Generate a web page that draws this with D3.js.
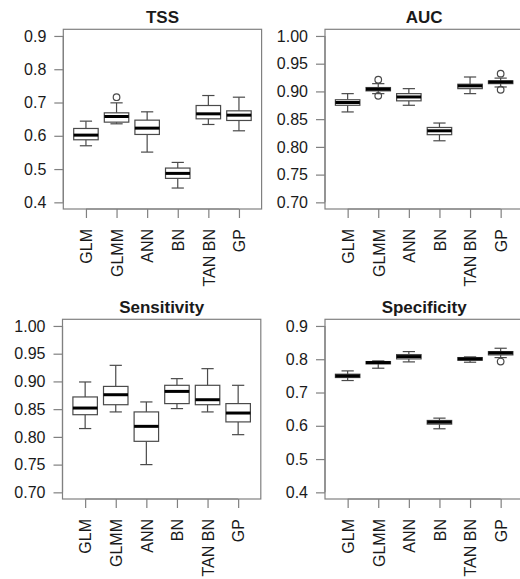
<!DOCTYPE html>
<html><head><meta charset="utf-8">
<script src="https://cdn.jsdelivr.net/npm/d3@7/dist/d3.min.js"></script>
<style>
html,body{margin:0;padding:0;background:#fff;}
svg{display:block;font-family:"Liberation Sans",Arial,sans-serif;}
</style></head>
<body>
<svg id="chart" width="520" height="579"></svg>
<script>
// ---- data ----
const categories = ["GLM", "GLMM", "ANN", "BN", "TAN BN", "GP"];
const titles = ["TSS", "AUC", "Sensitivity", "Specificity"];

// each row: [lower whisker, Q1, median, Q3, upper whisker]
const tssStats = [
  [0.570, 0.588, 0.602, 0.622, 0.644],
  [0.636, 0.641, 0.658, 0.669, 0.699],
  [0.551, 0.604, 0.623, 0.647, 0.672],
  [0.443, 0.472, 0.487, 0.503, 0.520],
  [0.634, 0.651, 0.666, 0.691, 0.721],
  [0.615, 0.646, 0.662, 0.675, 0.716]
];
const tssOutliers = [[], [0.716], [], [], [], []];

const aucStats = [
  [0.863, 0.875, 0.880, 0.885, 0.896],
  [0.896, 0.901, 0.904, 0.907, 0.914],
  [0.875, 0.883, 0.890, 0.896, 0.905],
  [0.811, 0.822, 0.829, 0.835, 0.843],
  [0.896, 0.905, 0.910, 0.913, 0.926],
  [0.908, 0.914, 0.917, 0.919, 0.924]
];
const aucOutliers = [[], [0.921, 0.892], [], [], [], [0.932, 0.903]];

const sensStats = [
  [0.815, 0.840, 0.852, 0.872, 0.899],
  [0.845, 0.858, 0.876, 0.891, 0.929],
  [0.750, 0.792, 0.819, 0.845, 0.863],
  [0.851, 0.860, 0.882, 0.893, 0.905],
  [0.845, 0.858, 0.867, 0.893, 0.923],
  [0.804, 0.827, 0.843, 0.860, 0.893]
];
const sensOutliers = [[], [], [], [], [], []];

const specStats = [
  [0.736, 0.745, 0.750, 0.755, 0.765],
  [0.773, 0.786, 0.790, 0.793, 0.795],
  [0.792, 0.801, 0.808, 0.814, 0.823],
  [0.591, 0.605, 0.611, 0.616, 0.623],
  [0.791, 0.797, 0.801, 0.805, 0.807],
  [0.805, 0.813, 0.819, 0.823, 0.833]
];
const specOutliers = [[], [], [], [], [], [0.793]];

const tssTicks = [0.4, 0.5, 0.6, 0.7, 0.8, 0.9];
const aucTicks = [0.70, 0.75, 0.80, 0.85, 0.90, 0.95, 1.00];
const sensTicks = [0.70, 0.75, 0.80, 0.85, 0.90, 0.95, 1.00];
const specTicks = [0.4, 0.5, 0.6, 0.7, 0.8, 0.9];

const tssLim = [0.4, 0.9];
const aucLim = [0.7, 1.0];
const sensLim = [0.7, 1.0];
const specLim = [0.4, 0.9];

// ---- layout ----
const panels = [
  {title: titles[0], stats: tssStats, out: tssOutliers, ticks: tssTicks, lim: tssLim, fmt: d3.format(".1f"), x0: 63.3, y0: 29.3},
  {title: titles[1], stats: aucStats, out: aucOutliers, ticks: aucTicks, lim: aucLim, fmt: d3.format(".2f"), x0: 325, y0: 29.3},
  {title: titles[2], stats: sensStats, out: sensOutliers, ticks: sensTicks, lim: sensLim, fmt: d3.format(".2f"), x0: 62.5, y0: 319.3},
  {title: titles[3], stats: specStats, out: specOutliers, ticks: specTicks, lim: specLim, fmt: d3.format(".1f"), x0: 325, y0: 319.3}
];
const PW = 198.3, PH = 179.7;
const svg = d3.select("#chart");
const frameCol = "#808080", boxCol = "#4a4a4a", textCol = "#1a1a1a";

panels.forEach(p => {
  const n = categories.length;
  const x = d3.scaleLinear().domain([0.5 - 0.04 * n, n + 0.5 + 0.04 * n]).range([p.x0, p.x0 + PW]);
  const span = p.lim[1] - p.lim[0];
  const y = d3.scaleLinear().domain([p.lim[0] - 0.04 * span, p.lim[1] + 0.04 * span]).range([p.y0 + PH, p.y0]);
  const g = svg.append("g");

  // title
  g.append("text").attr("x", p.x0 + PW / 2).attr("y", p.y0 - 6.5)
    .attr("text-anchor", "middle").attr("font-weight", "bold").attr("font-size", 17)
    .attr("fill", textCol).text(p.title);

  // frame
  g.append("rect").attr("x", p.x0).attr("y", p.y0).attr("width", PW).attr("height", PH)
    .attr("fill", "none").attr("stroke", frameCol).attr("stroke-width", 1.2);

  // y axis
  const yAxis = d3.axisLeft(y).tickValues(p.ticks).tickFormat(p.fmt).tickSize(9).tickPadding(8);
  const ya = g.append("g").attr("transform", `translate(${p.x0},0)`).call(yAxis);
  ya.select(".domain").attr("d", `M0,${y(p.ticks[0])}V${y(p.ticks[p.ticks.length - 1])}`)
    .attr("stroke", frameCol).attr("stroke-width", 1.2);
  ya.selectAll(".tick line").attr("stroke", frameCol).attr("stroke-width", 1.2);
  ya.selectAll(".tick text").attr("font-size", 16).attr("fill", textCol)
    .attr("font-family", "Liberation Sans, Arial, sans-serif");

  // x axis
  const xAxis = d3.axisBottom(x).tickValues(d3.range(1, n + 1)).tickFormat(i => categories[i - 1]).tickSize(9).tickPadding(11);
  const xa = g.append("g").attr("transform", `translate(0,${p.y0 + PH})`).call(xAxis);
  xa.select(".domain").attr("d", `M${x(1)},0H${x(n)}`).attr("stroke", frameCol).attr("stroke-width", 1.2);
  xa.selectAll(".tick line").attr("stroke", frameCol).attr("stroke-width", 1.2);
  xa.selectAll(".tick text").attr("font-size", 16).attr("fill", textCol)
    .attr("font-family", "Liberation Sans, Arial, sans-serif")
    .attr("text-anchor", "end").attr("transform", "rotate(-90)")
    .attr("x", -20).attr("y", 0).attr("dy", "0.36em");

  // boxes
  const bw = x(1.4) - x(1), sw = x(1.2) - x(1);
  p.stats.forEach((s, i) => {
    const cx = x(i + 1);
    const [lo, q1, med, q3, hi] = s;
    const bg = g.append("g").attr("stroke", boxCol).attr("fill", "none").attr("stroke-width", 1.2);
    bg.append("line").attr("x1", cx).attr("x2", cx).attr("y1", y(hi)).attr("y2", y(q3));
    bg.append("line").attr("x1", cx).attr("x2", cx).attr("y1", y(q1)).attr("y2", y(lo));
    bg.append("line").attr("x1", cx - sw).attr("x2", cx + sw).attr("y1", y(hi)).attr("y2", y(hi));
    bg.append("line").attr("x1", cx - sw).attr("x2", cx + sw).attr("y1", y(lo)).attr("y2", y(lo));
    bg.append("rect").attr("x", cx - bw).attr("width", 2 * bw)
      .attr("y", y(q3)).attr("height", y(q1) - y(q3)).attr("fill", "#fff");
    bg.append("line").attr("x1", cx - bw).attr("x2", cx + bw).attr("y1", y(med)).attr("y2", y(med))
      .attr("stroke", "#000").attr("stroke-width", 3);
    p.out[i].forEach(o => {
      bg.append("circle").attr("cx", cx).attr("cy", y(o)).attr("r", 3.3).attr("fill", "none");
    });
  });
});
</script>
</body></html>
